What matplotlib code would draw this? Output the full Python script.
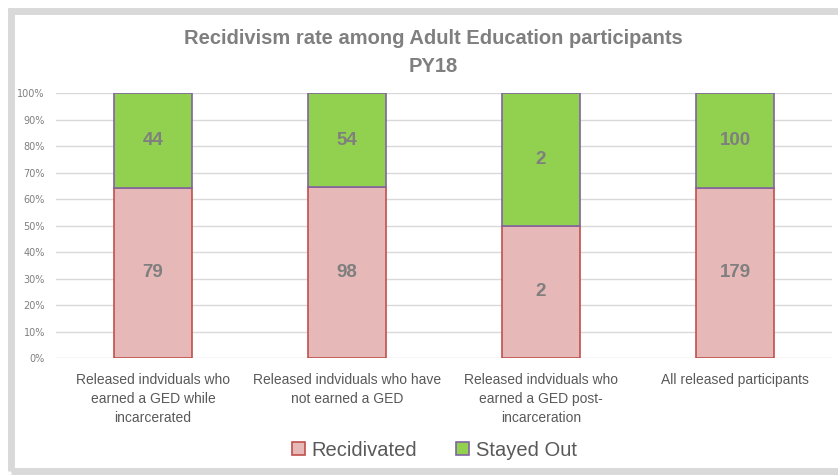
import numpy as np
import matplotlib.pyplot as plt
from matplotlib.patches import Rectangle
from matplotlib.ticker import PercentFormatter

# Data
categories = ['Released indviduals who\nearned a GED while\nincarcerated',
              'Released indviduals who have\nnot earned a GED',
              'Released indviduals who\nearned a GED post-\nincarceration',
              'All released participants']
recidivated = np.array([79, 98, 2, 179])
stayed_out = np.array([44, 54, 2, 100])

total = recidivated + stayed_out
rec_pct = recidivated / total * 100
out_pct = stayed_out / total * 100

gray = '#7F7F7F'

fig = plt.figure(figsize=(8.38, 4.75), dpi=100)
ax = fig.add_axes([0.0668, 0.2463, 0.926, 0.5579])

x = np.arange(len(categories))
w = 0.4
ax.bar(x, rec_pct, w, color='#E6B8B7', edgecolor='#C0504D', linewidth=1.2,
       label='Recidivated', zorder=3)
ax.bar(x, out_pct, w, bottom=rec_pct, color='#92D050', edgecolor='#8064A2',
       linewidth=1.2, label='Stayed Out', zorder=3)

for i in range(len(x)):
    ax.text(x[i], rec_pct[i] / 2, str(recidivated[i]), ha='center', va='center',
            fontsize=13.5, fontweight='bold', color=gray, family='Liberation Sans', zorder=4)
    ax.text(x[i], rec_pct[i] + out_pct[i] / 2, str(stayed_out[i]), ha='center',
            va='center', fontsize=13.5, fontweight='bold', color=gray,
            family='Liberation Sans', zorder=4)

ax.set_xlim(-0.5, len(x) - 0.5)
ax.set_ylim(0, 100)
ax.set_yticks(np.arange(0, 101, 10))
ax.yaxis.set_major_formatter(PercentFormatter(decimals=0))
ax.grid(axis='y', color='#D9D9D9', linewidth=1, zorder=0)
for s in ax.spines.values():
    s.set_visible(False)
ax.tick_params(axis='y', length=0, labelsize=7, labelcolor=gray, pad=8)
ax.tick_params(axis='x', length=0, pad=11)
ax.set_xticks(x)
ax.set_xticklabels(categories, fontsize=10, color='#595959', family='Liberation Sans',
                   linespacing=1.45)

fig.text(0.517, 0.889, 'Recidivism rate among Adult Education participants\nPY18',
         ha='center', va='center', fontsize=14.5, fontweight='bold', color=gray,
         family='Liberation Sans', linespacing=1.62)

leg = fig.legend(loc='center', bbox_to_anchor=(0.518, 0.052), ncol=2, frameon=False,
                 handlelength=0.65, handleheight=0.65, handletextpad=0.35,
                 columnspacing=1.9, prop={'family': 'Liberation Sans', 'size': 14.5})
for t in leg.get_texts():
    t.set_color('#595959')

# grey frame around the chart
fig.patches.append(Rectangle((11 / 838, 4 / 475), 1.05, 1 - 15 / 475,
                             transform=fig.transFigure, fill=False,
                             edgecolor='#D9D9D9', linewidth=5))

fig.savefig('out.png', dpi=100)
